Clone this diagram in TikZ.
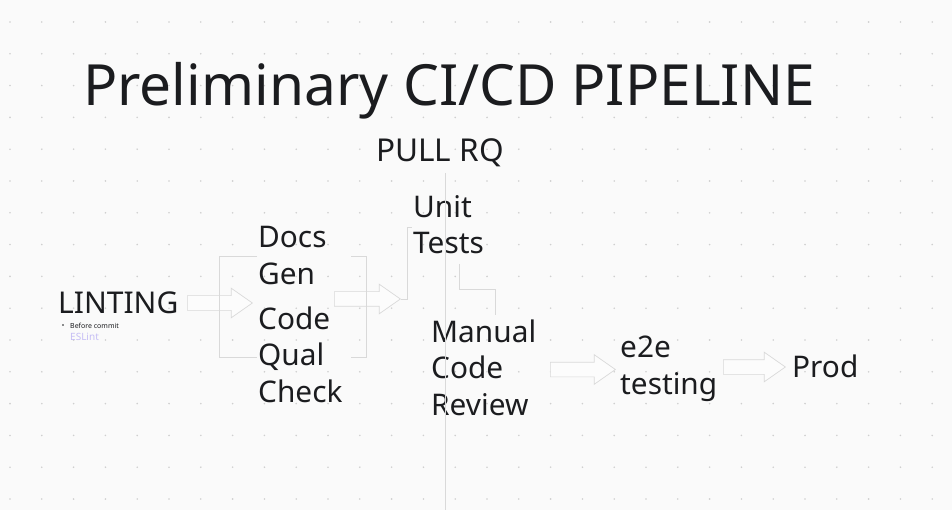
\documentclass[tikz,border=0pt]{standalone}
\usepackage{fontspec}
\setmainfont{Noto Sans}
\usetikzlibrary{arrows.meta,positioning,shapes.arrows}
\definecolor{bg}{HTML}{FAFAFA}
\definecolor{ink}{HTML}{1B1C1F}
\definecolor{dotc}{HTML}{CFCFCF}
\definecolor{rule}{HTML}{D9D9D9}
\definecolor{lav}{HTML}{C6BEF5}
\newcommand{\fsz}[2]{\fontsize{#1}{#2}\selectfont}
\tikzset{
  lbl/.style={anchor=base west,inner sep=0pt,align=left,text=ink,font=\fsz{29.8}{36.5}},
  blockarr/.style={single arrow,draw=rule,fill=bg!60!white,line width=0.7pt,
    inner xsep=0pt,inner ysep=7pt,minimum width=29pt,single arrow head extend=7.5pt,
    single arrow tip angle=70,anchor=west},
  guide/.style={draw=rule,line width=0.7pt},
}
\begin{document}
\begin{tikzpicture}[x=1pt,y=-1pt]
\fill[bg] (0,0) rectangle (952,510);
\useasboundingbox (0,0) rectangle (952,510);
% dot grid
\foreach \i in {0,...,29}{
  \foreach \j in {0,...,15}{
    \fill[dotc] ({10+31.8*\i},{22+31.8*\j}) circle (0.9pt);
  }
}
% titles
\node[lbl,font=\fsz{56.8}{60}] (title) at (83,106) {Preliminary CI/CD PIPELINE};
\node[lbl,font=\fsz{31.5}{36}] (pull) at (376,162) {PULL RQ};
% stages (multi-line labels sit on the baseline of their last line)
\node[lbl,font=\fsz{30}{36}] (lint) at (58,313) {LINTING};
\node[anchor=base west,inner sep=0pt,text=ink,font=\fsz{7}{8}] (before) at (70,328) {Before commit};
\fill[ink] (63,325) circle (0.9pt);
\node[anchor=base west,inner sep=0pt,text=lav,font=\fsz{10}{12}] (eslint) at (70,340) {ESLint};
\node[lbl] (docs) at (258,284) {Docs\\Gen};
\node[lbl] (qual) at (258,402) {Code\\Qual\\Check};
\node[lbl] (unit) at (413,254) {Unit\\Tests};
\node[lbl] (manual) at (431,415) {Manual\\Code\\Review};
\node[lbl] (e2e) at (620,394) {e2e\\testing};
\node[lbl] (prod) at (792,377) {Prod};
% block arrows
\node[blockarr,minimum height=65pt] (a1) at (187,303) {};
\node[blockarr,minimum height=66pt] (a2) at (334,299) {};
\node[blockarr,minimum height=65pt] (a3) at (550,369.5) {};
\node[blockarr,minimum height=62pt] (a4) at (723,367) {};
% brackets
\draw[guide] (257,256) -- (219,256) -- (219,357) -- (257,357);
\draw[guide] (351,256) -- (366,256) -- (366,357) -- (351,357);
% connectors
\coordinate (unitin) at (412,227);
\coordinate (unitout) at (459,264);
\coordinate (manualin) at (495,315);
\draw[guide] (a2.tip) -- ++(6,0) |- (unitin);
\draw[guide] (unitout) |- (manualin |- 0,289) -- (manualin);
\draw[guide] (445,173) -- (445,510);
\end{tikzpicture}
\end{document}
